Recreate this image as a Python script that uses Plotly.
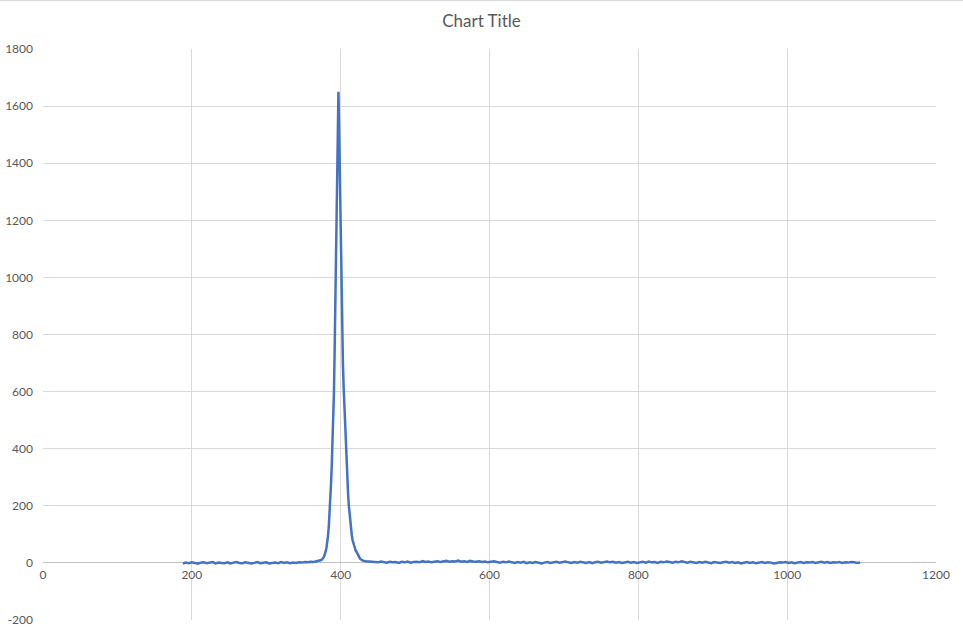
import plotly.graph_objects as go

# ---- data ----
x_left = [188,192,196,200,204,208,212,216,220,224,
          228,232,236,240,244,248,252,256,260,264,
          268,272,276,280,284,288,292,296,300,304,
          308,312,316,320,324,328,332,336,340,344,
          348,352,356,360,364,368]
y_left = [-2,1,-1,2,0,-3,1,2,-1,0,
          3,-2,1,0,-1,2,-2,1,3,0,
          -1,2,1,-2,0,3,-1,1,2,-2,
          0,1,-1,3,0,2,-1,1,0,2,
          1,3,2,4,3,5]

x_peak = [370,371,372,373,374,375,376,377,378,379,
          380,381,382,383,384,385,386,387,388,389,
          390,391,392,393,394,395,396,397,398,399,
          400,401,402,403,404,405,406,407,408,409,
          410,411,412,413,414,415,416,417,418,419,
          420,421,422,423,424,425,426,427,428,429,
          430]
y_peak = [6,7,8,9,10,12,15,19,25,32,
          42,55,72,95,125,165,215,275,340,420,
          500,600,760,940,1170,1360,1530,1650,1510,1340,
          1080,900,790,700,615,540,465,395,335,285,
          240,200,168,140,115,96,80,68,58,50,
          44,40,34,28,22,18,15,13,11,9,
          8]

x_right = [434,438,442,446,450,454,458,462,466,470,
           474,478,482,486,490,494,498,502,506,510,
           514,518,522,526,530,534,538,542,546,550,
           554,558,562,566,570,574,578,582,586,590,
           594,598,602,606,610,614,618,622,626,630,
           634,638,642,646,650,654,658,662,666,670,
           674,678,682,686,690,694,698,702,706,710,
           714,718,722,726,730,734,738,742,746,750,
           754,758,762,766,770,774,778,782,786,790,
           794,798,802,806,810,814,818,822,826,830,
           834,838,842,846,850,854,858,862,866,870,
           874,878,882,886,890,894,898,902,906,910,
           914,918,922,926,930,934,938,942,946,950,
           954,958,962,966,970,974,978,982,986,990,
           994,998,1002,1006,1010,1014,1018,1022,1026,1030,
           1034,1038,1042,1046,1050,1054,1058,1062,1066,1070,
           1074,1078,1082,1086,1090,1094,1098]
y_right = [6,5,3,4,2,5,3,1,4,2,
           3,0,4,2,5,1,3,4,2,6,
           3,5,2,4,6,3,5,7,4,6,
           5,8,4,6,3,7,5,4,6,3,
           5,2,4,6,3,1,4,2,5,3,
           0,3,1,4,-1,2,0,3,1,-2,
           1,3,0,2,4,1,3,5,2,0,
           3,1,4,2,0,3,-1,2,4,1,
           3,5,2,4,1,3,0,2,4,1,
           3,0,2,4,1,5,2,3,0,4,
           2,5,3,1,4,2,6,3,1,4,
           2,0,3,1,4,2,-1,3,1,0,
           2,4,1,3,0,2,-2,1,3,0,
           2,-1,1,3,0,2,1,-2,0,2,
           1,3,0,2,-1,1,3,0,2,1,
           3,0,2,4,1,3,0,2,1,3,
           0,2,1,3,2,0,1]

x_vals = x_left + x_peak + x_right
y_vals = y_left + y_peak + y_right

title_text = "Chart Title"
x_ticks = [0, 200, 400, 600, 800, 1000, 1200]
y_ticks = [-200, 0, 200, 400, 600, 800, 1000, 1200, 1400, 1600, 1800]

font_family = "Lato, 'Open Sans', sans-serif"
text_color = "#595959"
grid_color = "#d9d9d9"

fig = go.Figure()
fig.add_trace(go.Scatter(
    x=x_vals, y=y_vals, mode="lines",
    line=dict(color="#4472C4", width=2.5),
    showlegend=False, hoverinfo="x+y",
))

fig.update_layout(
    width=963, height=631,
    margin=dict(l=43, r=27, t=49, b=11, autoexpand=False),
    paper_bgcolor="white", plot_bgcolor="white",
    title=dict(text=title_text, x=0.5, xanchor="center", y=0.966, yanchor="middle",
               font=dict(family=font_family, size=17, color=text_color)),
    font=dict(family=font_family, size=12, color=text_color),
    xaxis=dict(
        range=[0, 1200], tickvals=x_ticks, ticktext=[str(v) for v in x_ticks],
        showgrid=True, gridcolor=grid_color, gridwidth=1,
        zeroline=False, showline=False, ticks="",
        anchor="free", position=0.1, ticklabelstandoff=3, automargin=False,
        tickfont=dict(family=font_family, size=12, color=text_color),
    ),
    yaxis=dict(
        range=[-200, 1800], tickvals=y_ticks, ticktext=[str(v) for v in y_ticks],
        showgrid=True, gridcolor=grid_color, gridwidth=1,
        zeroline=True, zerolinecolor="#bfbfbf", zerolinewidth=1,
        showline=False, ticks="", ticklabelstandoff=9, automargin=False,
        tickfont=dict(family=font_family, size=12, color=text_color),
    ),
    shapes=[dict(type="line", xref="paper", yref="paper",
                 x0=-43/893, x1=1 + 27/893, y0=1 + 48.5/571, y1=1 + 48.5/571,
                 line=dict(color=grid_color, width=1))],
)

fig.write_html("out.html", config={"displayModeBar": False},
               post_script="document.body.style.margin='0px';")
